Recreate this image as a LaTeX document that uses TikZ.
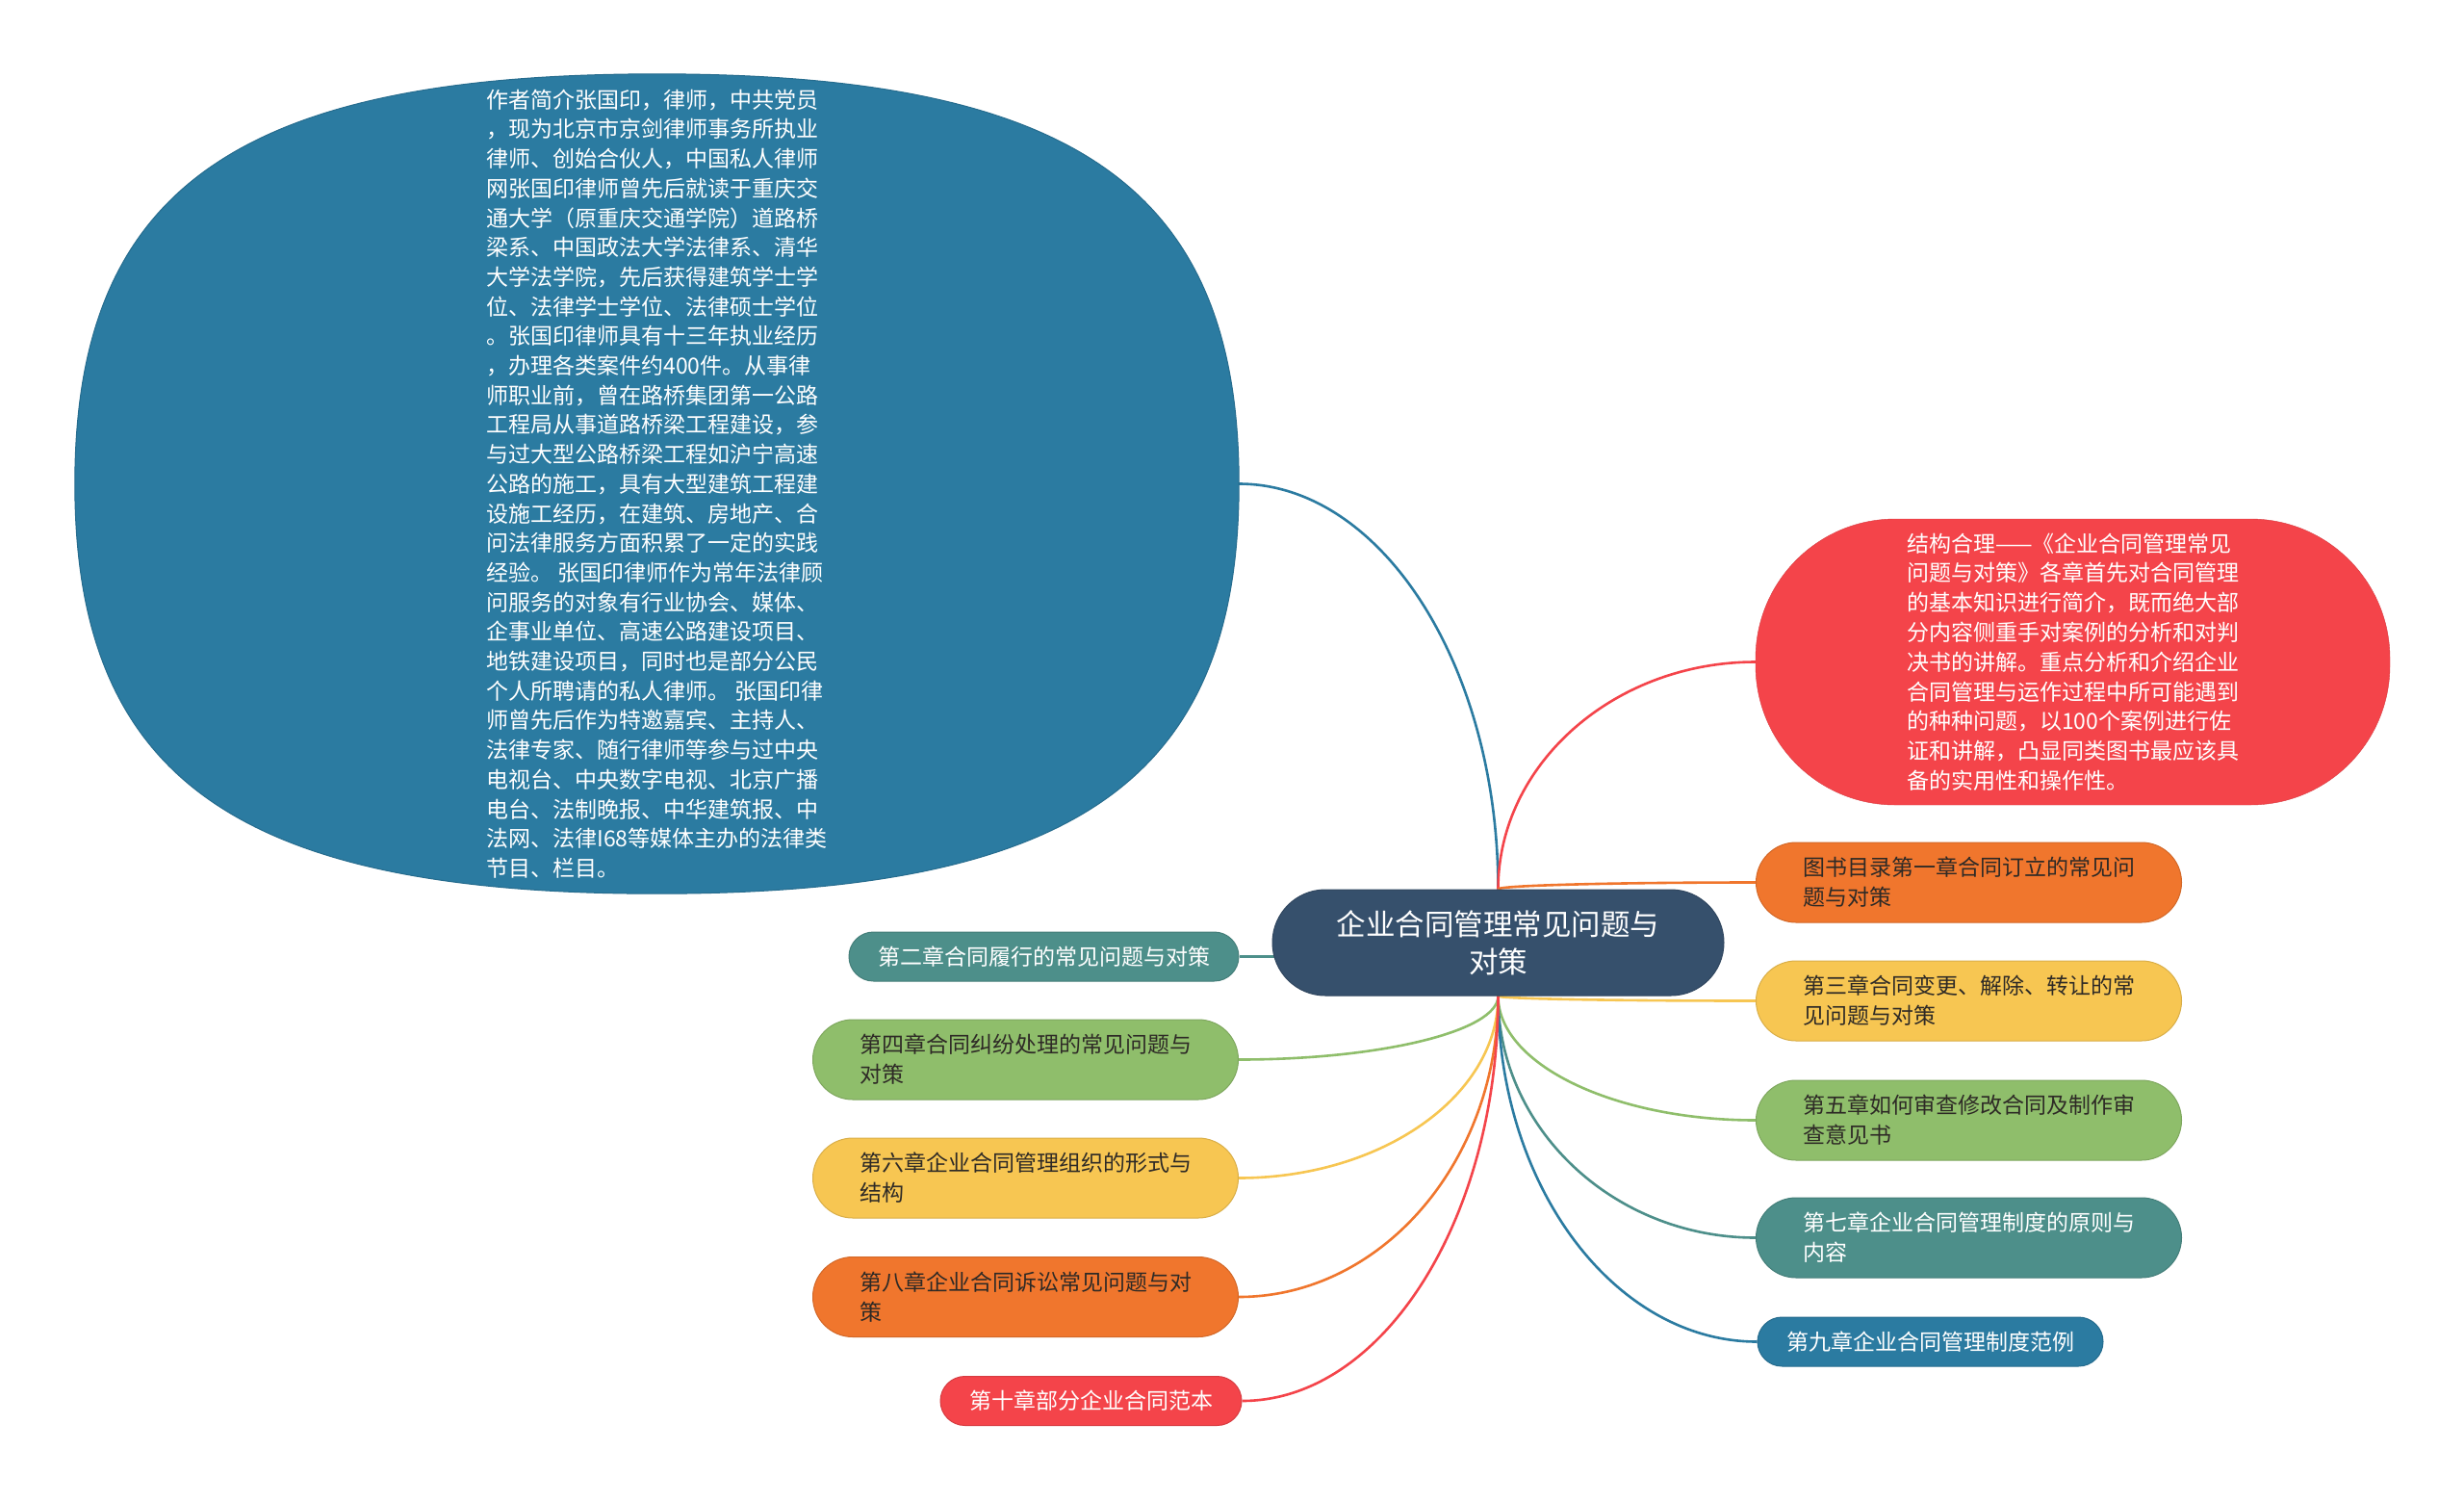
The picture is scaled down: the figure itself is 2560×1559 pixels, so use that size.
\documentclass[tikz,border=0pt]{standalone}
\usepackage{fontspec}
\setmainfont{Noto Sans CJK SC}
\usetikzlibrary{calc}
\definecolor{cdark}{HTML}{36506C}
\definecolor{cblue}{HTML}{2B7BA1}
\definecolor{cred}{HTML}{F4444A}
\definecolor{corange}{HTML}{F0762D}
\definecolor{cyellow}{HTML}{F7C652}
\definecolor{cgreen}{HTML}{8FBE6B}
\definecolor{cteal}{HTML}{4D8F8A}
\definecolor{ctxt}{HTML}{2E2A26}
\pgfdeclarelayer{bg}
\pgfdeclarelayer{mid}
\pgfsetlayers{bg,mid,main}
\newcommand{\mmlink}[3]{\draw[conn,#1] (#2) .. controls ($(#2)!0.55!(#2 |- #3)$) and ($(#3)!0.55!(#2 |- #3)$) .. (#3);}
\tikzset{
  chap/.style={font=\fontsize{23}{31}\selectfont, align=left},
  twoline/.style={chap, minimum width=442pt, minimum height=83pt, rounded corners=41.5pt, inner sep=0pt, line width=1pt},
  oneline/.style={chap, minimum height=51pt, rounded corners=25.5pt, inner xsep=30pt, inner ysep=0pt, line width=1pt},
  colbox/.style={fill=#1, draw=#1!88!black},
  conn/.style={line width=2.6pt}
}
\begin{document}
\begin{tikzpicture}[x=1pt,y=-1pt]
\useasboundingbox (0,0) rectangle (2560,1559);

% big oval (shape drawn below on layer mid)
\node[minimum width=1209pt, minimum height=851pt, inner sep=0pt,
      text=white, align=left, font=\fontsize{23}{30.7}\selectfont] (big) at (682.5,502.5)
{作者简介张国印，律师，中共党员\\
，现为北京市京剑律师事务所执业\\
律师、创始合伙人，中国私人律师\\
网张国印律师曾先后就读于重庆交\\
通大学（原重庆交通学院）道路桥\\
梁系、中国政法大学法律系、清华\\
大学法学院，先后获得建筑学士学\\
位、法律学士学位、法律硕士学位\\
。张国印律师具有十三年执业经历\\
，办理各类案件约400件。从事律\\
师职业前，曾在路桥集团第一公路\\
工程局从事道路桥梁工程建设，参\\
与过大型公路桥梁工程如沪宁高速\\
公路的施工，具有大型建筑工程建\\
设施工经历，在建筑、房地产、合\\
问法律服务方面积累了一定的实践\\
经验。 张国印律师作为常年法律顾\\
问服务的对象有行业协会、媒体、\\
企事业单位、高速公路建设项目、\\
地铁建设项目，同时也是部分公民\\
个人所聘请的私人律师。 张国印律\\
师曾先后作为特邀嘉宾、主持人、\\
法律专家、随行律师等参与过中央\\
电视台、中央数字电视、北京广播\\
电台、法制晚报、中华建筑报、中\\
法网、法律I68等媒体主办的法律类\\
节目、栏目。};

% red rounded node
\node[colbox=cred, rounded corners=145pt, minimum width=659pt, minimum height=297pt, inner sep=0pt,
      text=white, align=left, font=\fontsize{23}{30.8}\selectfont] (redn) at (2153.5,687.5)
{结构合理——《企业合同管理常见\\
问题与对策》各章首先对合同管理\\
的基本知识进行简介，既而绝大部\\
分内容侧重手对案例的分析和对判\\
决书的讲解。重点分析和介绍企业\\
合同管理与运作过程中所可能遇到\\
的种种问题，以100个案例进行佐\\
证和讲解，凸显同类图书最应该具\\
备的实用性和操作性。};

% central
\node[colbox=cdark, rounded corners=55pt, minimum width=469pt, minimum height=110pt, inner sep=0pt,
      text=white, align=center, font=\fontsize{30.5}{39}\selectfont, line width=1pt] (c) at (1556.5,979)
{企业合同管理常见问题与\\对策};

% right nodes
\node[twoline, colbox=corange, text=ctxt] (r1) at (2045.5,916.5) {图书目录第一章合同订立的常见问\\题与对策};
\node[twoline, colbox=cyellow, text=ctxt] (r2) at (2045.5,1039.5) {第三章合同变更、解除、转让的常\\见问题与对策};
\node[twoline, colbox=cgreen, text=ctxt] (r3) at (2045.5,1163.5) {第五章如何审查修改合同及制作审\\查意见书};
\node[twoline, colbox=cteal, text=white] (r4) at (2045.5,1285.5) {第七章企业合同管理制度的原则与\\内容};
\node[oneline, colbox=cblue, text=white] (r5) at (2005.5,1393.5) {第九章企业合同管理制度范例};

% left nodes
\node[oneline, colbox=cteal, text=white] (l1) at (1084.5,993.5) {第二章合同履行的常见问题与对策};
\node[twoline, colbox=cgreen, text=ctxt] (l2) at (1065.5,1100.5) {第四章合同纠纷处理的常见问题与\\对策};
\node[twoline, colbox=cyellow, text=ctxt] (l3) at (1065.5,1223.5) {第六章企业合同管理组织的形式与\\结构};
\node[twoline, colbox=corange, text=ctxt] (l4) at (1065.5,1347) {第八章企业合同诉讼常见问题与对\\策};
\node[oneline, colbox=cred, text=white] (l5) at (1133.5,1455) {第十章部分企业合同范本};

\begin{pgfonlayer}{mid}
\filldraw[fill=cblue, draw=cblue!88!black, line width=1pt]
  (big.west)
  .. controls ($(big.west)!0.72!(big.north west)$) and ($(big.north)!0.72!(big.north west)$) .. (big.north)
  .. controls ($(big.north)!0.72!(big.north east)$) and ($(big.east)!0.72!(big.north east)$) .. (big.east)
  .. controls ($(big.east)!0.72!(big.south east)$) and ($(big.south)!0.72!(big.south east)$) .. (big.south)
  .. controls ($(big.south)!0.72!(big.south west)$) and ($(big.west)!0.72!(big.south west)$) .. (big.west)
  -- cycle;
\end{pgfonlayer}

\begin{pgfonlayer}{bg}
\fill[white] (0,0) rectangle (2560,1559);
\mmlink{cblue}{c.north}{big.east}
\mmlink{cred}{c.north}{redn.west}
\mmlink{corange}{c.north}{r1.west}
\mmlink{cyellow}{c.south}{r2.west}
\mmlink{cgreen}{c.south}{r3.west}
\mmlink{cteal}{c.south}{r4.west}
\mmlink{cblue}{c.south}{r5.west}
\draw[conn,cteal] (c.center |- l1.east) -- (l1.east);
\mmlink{cgreen}{c.south}{l2.east}
\mmlink{cyellow}{c.south}{l3.east}
\mmlink{corange}{c.south}{l4.east}
\mmlink{cred}{c.south}{l5.east}
\end{pgfonlayer}
\end{tikzpicture}
\end{document}
